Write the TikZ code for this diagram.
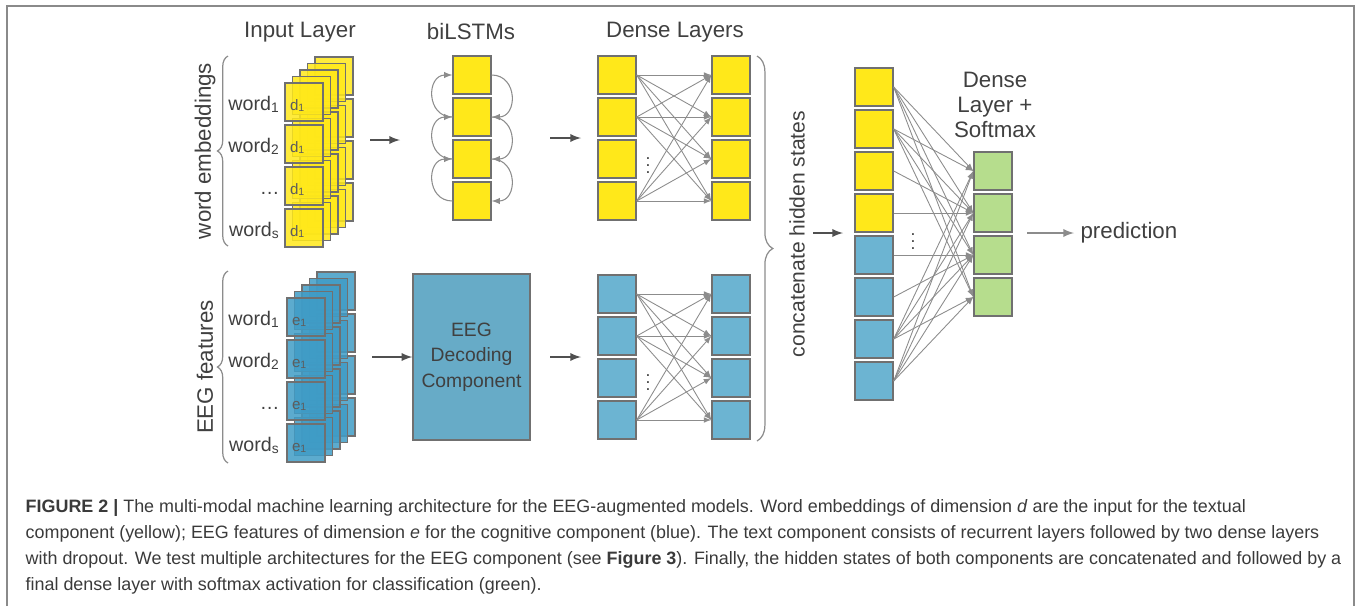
\documentclass[tikz,border=0pt]{standalone}
\usepackage{fontspec}
\setmainfont{Liberation Sans}
\usetikzlibrary{math, calc, decorations.pathreplacing}

\definecolor{txtgray}{HTML}{404040}
\definecolor{cellgray}{HTML}{707070}
\definecolor{linkgray}{HTML}{8C8C8C}
\definecolor{arrowgray}{HTML}{505050}
\definecolor{cyellow}{HTML}{FFE81A}
\definecolor{cblue}{HTML}{6CB4D2}
\definecolor{cdeep}{HTML}{3F9CC6}
\definecolor{cgreen}{HTML}{B6DD8D}
\definecolor{frame}{HTML}{8A8A8A}

\begin{document}
\begin{tikzpicture}[x=0.02cm, y=-0.02cm, line width=0.8pt,
    cell/.style={draw=cellgray, inner sep=0pt, minimum width=0.76cm, minimum height=0.76cm},
    ycell/.style={cell, fill=cyellow},
    bcell/.style={cell, fill=cblue},
    gcell/.style={cell, fill=cgreen},
    stackcell/.style={cell, fill opacity=0.85},
    title/.style={font=\fontsize{12.7}{15}\selectfont, text=txtgray},
    label/.style={font=\fontsize{11.2}{13}\selectfont, text=txtgray, inner sep=0pt},
    dim/.style={font=\fontsize{8.6}{10}\selectfont, text=txtgray!85, inner sep=0pt},
    link/.style={draw=linkgray, line width=0.5pt, -latex},
    flow/.style={draw=arrowgray, line width=1.1pt, -latex},
    rec/.style={draw=linkgray, line width=0.6pt, -latex, looseness=1.6},
    brace/.style={draw=linkgray, line width=0.7pt, decorate},
]
    \tikzmath{
        \pitch=42;
        \stepx=7.5;
        \stepy=6.5;
        \inx=304;
        \inyy=102;
        \inyb=317;
        \lstmx=472;
        \densea=617;
        \denseb=731;
        \rowy=75;
        \rowb=294;
        \catx=874;
        \caty=87;
        \outx=993;
        \outy=171;
    }

    \useasboundingbox (0, 0) rectangle (1357, 606);
    \draw [frame, line width=1.1pt] (7, 606) -- (7, 6) -- (1354, 6) -- (1354, 606);

    % titles
    \node [title] (t-in) at (300, 32) {Input Layer};
    \node [title] (t-lstm) at (471, 32) {biLSTMs};
    \node [title] (t-dense) at (675, 32) {Dense Layers};
    \node [title, align=center, font=\fontsize{12.7}{14.4}\selectfont] (t-out) at (995, 105) {Dense\\Layer +\\Softmax};

    % input layer, word embeddings
    \foreach \k in {4,3,2,1} {
        \foreach \r in {1,...,4} {
            \node [stackcell, fill=cyellow] (wy-\r-\k) at ({\inx+\k*\stepx}, {\inyy+(\r-1)*\pitch-\k*\stepy}) {};
        }
    }
    \foreach \r/\lab in {1/{word\textsubscript{1}}, 2/{word\textsubscript{2}}, 3/{\ldots}, 4/{word\textsubscript{s}}} {
        \node [stackcell, fill=cyellow] (wy-\r) at (\inx, {\inyy+(\r-1)*\pitch}) {};
        \node [dim, anchor=base west] (dy-\r) at ($ (wy-\r.west) + (5, 8) $) {d\textsubscript{1}};
        \node [label, anchor=base east] (ly-\r) at ($ (wy-\r.west) + (-4, 8) $) {\lab};
    }
    \draw [brace, decoration={brace, amplitude=6pt}] (228, 246) -- (228, 56);
    \node [title, rotate=90] (l-emb) at (205, 151) {word embeddings};

    % input layer, EEG features
    \foreach \k in {4,3,2,1} {
        \foreach \r in {1,...,4} {
            \node [stackcell, fill=cdeep] (wb-\r-\k) at ({\inx+2+\k*\stepx}, {\inyb+(\r-1)*\pitch-\k*\stepy}) {};
        }
    }
    \foreach \r/\lab in {1/{word\textsubscript{1}}, 2/{word\textsubscript{2}}, 3/{\ldots}, 4/{word\textsubscript{s}}} {
        \node [stackcell, fill=cdeep] (wb-\r) at (\inx+2, {\inyb+(\r-1)*\pitch}) {};
        \node [dim, anchor=base west] (db-\r) at ($ (wb-\r.west) + (5, 8) $) {e\textsubscript{1}};
        \node [label, anchor=base east] (lb-\r) at ($ (wb-\r.west) + (-6, 8) $) {\lab};
    }
    \draw [brace, decoration={brace, amplitude=6pt}] (228, 463) -- (228, 271);
    \node [title, rotate=90] (l-eeg) at (205, 367) {EEG features};

    % biLSTMs
    \foreach \r in {1,...,4} {
        \node [ycell] (lstm-\r) at (\lstmx, {\rowy+(\r-1)*\pitch}) {};
    }
    \foreach \r [evaluate=\r as \n using int(\r+1)] in {1,2,3} {
        \draw [rec] (lstm-\n.west) to [out=180, in=180] (lstm-\r.west);
        \draw [rec] (lstm-\r.east) to [out=0, in=0] (lstm-\n.east);
    }

    % EEG decoding component
    \node [cell, fill=cblue!95!black, minimum width=2.34cm, minimum height=3.32cm, align=center,
        font=\fontsize{11}{14.6}\selectfont, text=txtgray] (eeg) at (471.5, 357) {EEG\\Decoding\\Component};

    % dense layers
    \foreach \r in {1,...,4} {
        \node [ycell] (dya-\r) at (\densea, {\rowy+(\r-1)*\pitch}) {};
        \node [ycell] (dyb-\r) at (\denseb, {\rowy+(\r-1)*\pitch}) {};
        \node [bcell] (dba-\r) at (\densea, {\rowb+(\r-1)*\pitch}) {};
        \node [bcell] (dbb-\r) at (\denseb, {\rowb+(\r-1)*\pitch}) {};
    }
    \foreach \s in {1,2,4} {
        \foreach \t in {1,...,4} {
            \draw [link] (dya-\s.east) -- (dyb-\t.west);
            \draw [link] (dba-\s.east) -- (dbb-\t.west);
        }
    }
    \node [text=txtgray] (dots-y) at (648, 160) {$\vdots$};
    \node [text=txtgray] (dots-b) at (648, 377) {$\vdots$};

    % concatenate hidden states
    \draw [brace, decoration={brace, amplitude=9pt}] (757, 56) -- (757, 441);
    \node [title, rotate=90, font=\fontsize{12}{14}\selectfont] (l-cat) at (797, 234) {concatenate hidden states};

    \foreach \r in {1,...,8} {
        \ifnum\r<5
            \node [ycell] (cat-\r) at (\catx, {\caty+(\r-1)*\pitch}) {};
        \else
            \node [bcell] (cat-\r) at (\catx, {\caty+(\r-1)*\pitch}) {};
        \fi
    }
    \foreach \r in {1,...,4} {
        \node [gcell] (out-\r) at (\outx, {\outy+(\r-1)*\pitch}) {};
    }
    \foreach \s in {1,2,7,8} {
        \foreach \t in {1,...,4} {
            \draw [link] (cat-\s.east) -- (out-\t.west);
        }
    }
    \foreach \s/\t in {3/2, 4/2, 5/3, 6/3} {
        \draw [link] (cat-\s.east) -- (out-\t.west);
    }
    \node [text=txtgray] (dots-c) at (913, 236) {$\vdots$};

    % arrows between stages
    \coordinate (f1) at (370, 140);
    \coordinate (f2) at (372, 357);
    \coordinate (f3) at (550, 138);
    \coordinate (f4) at (550, 357);
    \coordinate (f5) at (813, 233);
    \coordinate (f6) at (1027, 233);
    \coordinate (g1) at (400, 140);
    \coordinate (g3) at (581, 138);
    \coordinate (g4) at (581, 357);
    \coordinate (g5) at (843, 233);
    \draw [flow] (f1) -- (g1);
    \draw [flow] (f2) -- (eeg.west);
    \draw [flow] (f3) -- (g3);
    \draw [flow] (f4) -- (g4);
    \draw [flow] (f5) -- (g5);
    \node [title, anchor=west] (pred) at (1074, 233) {prediction};
    \draw [flow, draw=linkgray] (f6) -- (pred.west);

    % caption
    \node [anchor=north west, align=left, inner sep=0pt, text=txtgray!90!black,
        font=\fontsize{10.2}{14.7}\selectfont] (cap) at (25, 499)
        {\textbf{FIGURE 2 |} The multi-modal machine learning architecture for the EEG-augmented models. Word embeddings of dimension \textit{d} are the input for the textual\\
        component (yellow); EEG features of dimension \textit{e} for the cognitive component (blue). The text component consists of recurrent layers followed by two dense layers\\
        with dropout. We test multiple architectures for the EEG component (see \textbf{Figure 3}). Finally, the hidden states of both components are concatenated and followed by a\\
        final dense layer with softmax activation for classification (green).};
\end{tikzpicture}
\end{document}
